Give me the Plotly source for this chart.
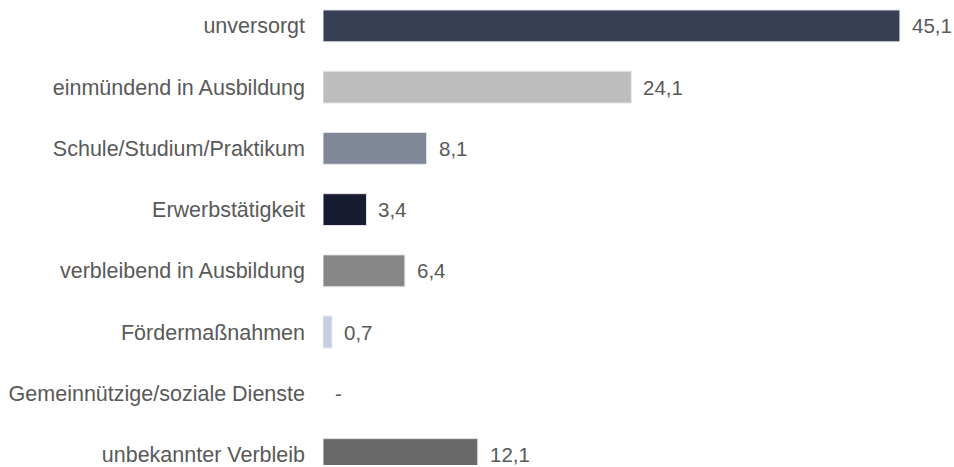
import plotly.graph_objects as go

categories = [
    "unversorgt",
    "einmündend in Ausbildung",
    "Schule/Studium/Praktikum",
    "Erwerbstätigkeit",
    "verbleibend in Ausbildung",
    "Fördermaßnahmen",
    "Gemeinnützige/soziale Dienste",
    "unbekannter Verbleib",
]
values = [45.1, 24.1, 8.1, 3.4, 6.4, 0.7, 0, 12.1]
value_labels = ["45,1", "24,1", "8,1", "3,4", "6,4", "0,7", "-", "12,1"]
colors = ["#373f55", "#bdbdbd", "#7f8799", "#161b30", "#878787", "#c5cde0", "#ffffff", "#696969"]

FONT = "Liberation Sans, Arial, sans-serif"
TXT = "#595959"
FS = 21.5

fig = go.Figure(
    go.Bar(
        x=values,
        y=categories,
        orientation="h",
        width=0.52,
        marker=dict(
            color=colors,
            line=dict(color="#e4e6ea", width=[1 if v > 0 else 0 for v in values]),
        ),
        hoverinfo="skip",
    )
)

annotations = [
    dict(
        x=v, y=c, text=t, xref="x", yref="y",
        xanchor="left", yanchor="middle", xshift=11, showarrow=False,
        borderpad=0,
        font=dict(family=FONT, size=20.5, color=TXT),
    )
    for v, c, t in zip(values, categories, value_labels)
]

fig.update_layout(
    width=954,
    height=467,
    margin=dict(l=323, r=0, t=0, b=0),
    paper_bgcolor="white",
    plot_bgcolor="white",
    showlegend=False,
    annotations=annotations,
    font=dict(family=FONT, size=FS, color=TXT),
)
fig.update_xaxes(range=[0, 49.33], visible=False, showgrid=False, zeroline=False)
fig.update_yaxes(
    type="category",
    range=[7.171, -0.423],
    showgrid=False,
    zeroline=False,
    showline=False,
    ticks="",
    ticklabelstandoff=17,
    tickfont=dict(family=FONT, size=FS, color=TXT),
)

fig.write_html(
    "out.html",
    config={"displayModeBar": False},
    post_script="document.body.style.margin='0';document.body.style.overflow='hidden';",
)
